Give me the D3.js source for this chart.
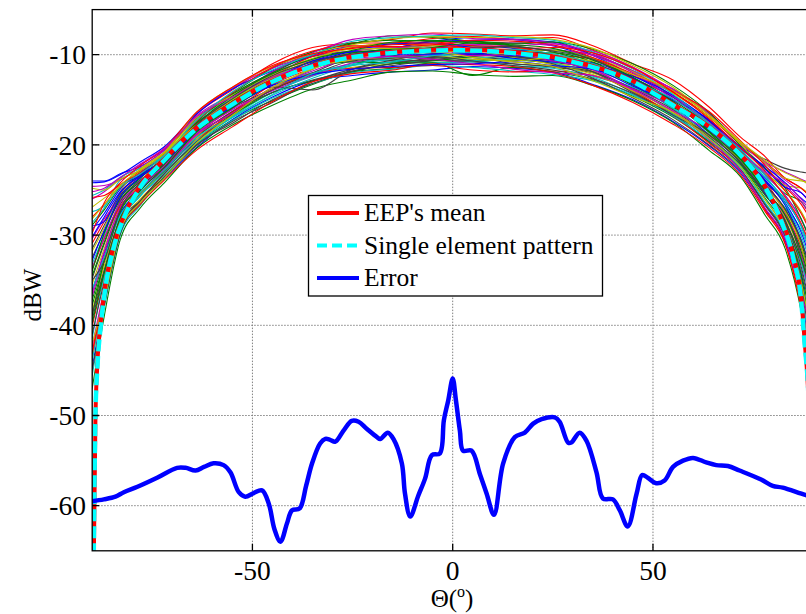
<!DOCTYPE html>
<html>
<head>
<meta charset="utf-8">
<script src="https://cdn.jsdelivr.net/npm/d3@7"></script>
<style>
  html, body { margin: 0; padding: 0; background: #fff; }
  svg { display: block; }
  text { font-family: "Liberation Serif", "Times New Roman", Times, "DejaVu Serif", serif; }
</style>
</head>
<body>
<div id="chart"></div>
<script>
// Embedded element patterns (dBW), one row per element
const eepAngles = [-90, -87, -83, -78, -72, -64, -55, -45, -35, -25, -15, -5, 5, 15, 25, 35, 45, 55, 64, 72, 78, 83, 87, 90]
const eepCurves = [
  [-24.0, -24.0, -23.2, -22.4, -20.6, -17.1, -14.4, -12.4, -10.1, -9.1, -9.2, -8.5, -8.1, -8.3, -9.0, -10.4, -12.7, -15.6, -18.3, -21.9, -25.2, -28.9, -33.9, -40.0],
  [-37.8, -33.0, -27.6, -25.5, -23.0, -19.9, -17.2, -15.1, -13.3, -11.9, -11.5, -10.9, -10.7, -10.6, -10.9, -11.4, -13.2, -15.1, -17.8, -20.7, -23.2, -25.4, -26.3, -28.4],
  [-30.9, -28.5, -25.4, -23.4, -21.0, -17.6, -14.8, -11.9, -9.7, -8.7, -8.7, -8.2, -8.0, -8.3, -8.1, -9.5, -11.4, -14.2, -16.9, -19.8, -21.9, -23.7, -24.8, -26.1],
  [-28.6, -27.0, -23.9, -22.9, -21.1, -17.5, -15.3, -13.3, -12.0, -11.0, -10.1, -9.4, -9.5, -9.6, -10.5, -11.9, -13.7, -16.5, -19.2, -22.8, -26.5, -29.8, -35.5, -42.4],
  [-42.4, -36.0, -29.0, -25.5, -22.6, -18.5, -15.2, -12.5, -10.6, -9.1, -9.2, -9.0, -8.5, -9.2, -9.5, -10.0, -11.8, -13.8, -16.5, -19.8, -21.9, -24.5, -26.3, -28.4],
  [-35.5, -31.5, -26.9, -24.5, -22.5, -19.0, -16.8, -13.8, -12.1, -11.4, -11.0, -10.4, -9.9, -10.1, -10.9, -11.8, -13.2, -15.6, -17.8, -21.1, -23.2, -24.5, -24.8, -26.1],
  [-34.8, -31.0, -26.6, -24.3, -22.2, -18.5, -15.8, -13.3, -11.0, -10.0, -10.1, -10.5, -10.8, -11.0, -11.4, -12.0, -13.7, -15.6, -17.4, -20.2, -21.6, -22.6, -23.0, -23.2],
  [-44.7, -37.5, -29.8, -26.5, -23.8, -20.3, -17.2, -14.7, -12.9, -12.3, -11.9, -11.7, -11.3, -11.5, -11.9, -13.3, -15.0, -17.4, -20.1, -23.2, -27.1, -30.6, -37.0, -44.7],
  [-28.9, -27.2, -24.7, -23.4, -21.4, -17.2, -14.3, -11.5, -9.7, -8.8, -7.9, -8.1, -8.5, -8.7, -8.6, -10.0, -11.8, -14.7, -17.8, -21.1, -24.5, -27.2, -30.9, -35.4],
  [-40.1, -34.5, -28.3, -25.5, -22.7, -19.0, -16.3, -13.3, -11.5, -10.0, -10.2, -9.9, -9.4, -9.6, -10.5, -11.4, -12.7, -14.7, -17.4, -21.0, -24.0, -27.5, -31.4, -36.0],
  [-33.2, -30.0, -25.6, -23.9, -21.8, -18.0, -14.9, -12.4, -11.0, -10.1, -9.2, -9.0, -9.1, -9.6, -9.5, -10.9, -13.2, -16.0, -18.8, -21.5, -24.6, -27.0, -29.4, -33.1],
  [-24.6, -24.5, -23.9, -22.5, -20.6, -16.8, -14.4, -12.0, -10.6, -10.0, -9.6, -9.0, -8.9, -8.7, -9.0, -9.6, -11.4, -13.9, -16.6, -19.9, -22.1, -23.9, -25.3, -26.8],
  [-38.4, -33.4, -28.3, -25.5, -22.9, -19.0, -15.8, -12.8, -11.1, -9.7, -9.2, -9.4, -9.5, -10.1, -10.9, -12.0, -14.1, -16.5, -18.8, -21.9, -25.2, -28.0, -32.4, -37.7],
  [-32.5, -29.6, -26.1, -23.9, -22.2, -18.4, -15.9, -13.8, -12.0, -10.5, -10.6, -10.3, -10.5, -10.1, -10.5, -11.9, -14.2, -16.6, -19.7, -22.8, -26.6, -30.0, -35.8, -43.0],
  [-36.2, -32.0, -27.6, -25.0, -22.6, -19.4, -16.7, -13.8, -11.6, -10.0, -9.3, -8.5, -8.4, -8.3, -8.6, -10.1, -12.3, -14.7, -17.3, -21.0, -23.9, -26.4, -29.7, -33.6],
  [-47.0, -39.0, -30.5, -27.0, -24.2, -20.4, -17.8, -15.6, -13.8, -12.8, -11.9, -11.8, -12.2, -12.4, -12.3, -13.4, -15.1, -17.5, -20.6, -23.6, -27.8, -31.5, -38.5, -47.0],
  [-28.0, -26.6, -24.5, -22.9, -20.9, -16.6, -13.9, -11.0, -9.2, -8.7, -8.3, -7.6, -7.7, -7.9, -7.8, -9.0, -11.0, -12.8, -15.8, -19.2, -21.3, -23.7, -24.8, -26.1],
  [-41.5, -34.5, -28.5, -25.6, -23.4, -19.9, -16.9, -14.2, -12.4, -11.1, -10.6, -10.9, -10.8, -10.5, -10.9, -12.4, -13.6, -15.6, -17.9, -21.1, -23.3, -25.6, -28.2, -31.2],
  [-26.0, -25.2, -23.7, -22.2, -20.5, -16.5, -13.7, -11.5, -10.1, -9.6, -9.2, -9.4, -9.9, -9.6, -9.5, -10.0, -11.8, -13.8, -16.5, -19.8, -21.9, -23.0, -23.8, -24.4],
  [-43.8, -37.0, -29.0, -26.0, -23.5, -19.4, -16.7, -13.8, -11.5, -10.4, -9.6, -9.0, -9.1, -9.2, -10.0, -10.9, -12.8, -15.5, -18.3, -21.9, -25.3, -28.2, -34.2, -40.5],
  [-31.5, -28.9, -25.6, -23.6, -21.4, -17.6, -15.4, -13.6, -13.9, -11.6, -10.6, -9.9, -10.0, -9.6, -9.5, -10.4, -12.6, -15.6, -18.3, -21.8, -24.5, -27.3, -32.6, -38.0],
  [-24.2, -24.1, -23.3, -21.9, -20.2, -16.6, -13.8, -11.8, -10.2, -9.7, -9.6, -9.3, -9.0, -9.3, -10.1, -11.0, -13.3, -15.7, -18.9, -22.0, -25.4, -29.2, -34.5, -43.0],
  [-37.2, -32.6, -27.4, -24.8, -22.4, -18.8, -16.6, -14.2, -12.9, -11.9, -11.0, -10.9, -12.3, -11.4, -11.9, -12.8, -14.6, -16.9, -19.6, -22.3, -25.9, -29.1, -34.3, -40.6],
  [-33.8, -30.4, -26.8, -24.6, -22.0, -18.1, -15.2, -12.4, -10.2, -9.2, -8.7, -8.6, -9.0, -9.1, -10.0, -10.5, -12.3, -14.2, -16.9, -20.1, -22.6, -24.7, -26.6, -28.8],
  [-45.6, -38.0, -30.0, -26.7, -23.5, -20.0, -17.3, -14.8, -13.2, -12.0, -11.6, -11.2, -11.4, -11.8, -12.2, -12.9, -14.5, -16.6, -19.3, -22.4, -26.4, -29.9, -36.6, -44.2],
  [-30.4, -28.2, -26.1, -24.0, -21.7, -17.9, -14.8, -11.9, -9.8, -8.3, -7.9, -7.7, -8.2, -8.3, -8.7, -10.1, -11.9, -14.6, -17.5, -20.6, -23.3, -25.6, -28.3, -31.3],
  [-26.9, -25.9, -24.7, -23.0, -21.1, -17.2, -14.8, -12.4, -10.6, -9.1, -8.8, -9.0, -9.4, -9.7, -9.5, -10.4, -11.9, -14.3, -16.9, -19.8, -22.0, -23.7, -24.0, -24.2],
  [-39.4, -34.0, -28.0, -25.3, -22.9, -19.2, -16.3, -14.2, -12.8, -11.8, -11.0, -10.4, -10.3, -11.0, -11.3, -11.9, -13.8, -16.1, -19.1, -22.2, -25.1, -27.8, -32.1, -37.2],
  [-29.4, -27.6, -24.9, -23.1, -21.3, -18.0, -15.4, -12.8, -10.7, -9.7, -9.6, -9.8, -10.0, -10.1, -10.6, -10.9, -12.6, -15.2, -18.4, -21.5, -23.7, -26.1, -29.0, -32.6],
  [-34.5, -30.8, -26.3, -24.1, -21.9, -17.5, -14.4, -12.0, -10.0, -8.7, -8.4, -8.5, -8.6, -8.8, -8.6, -9.4, -11.0, -13.4, -16.4, -20.1, -22.6, -24.8, -28.2, -31.4],
  [-43.0, -36.5, -29.3, -26.2, -23.2, -19.6, -16.4, -13.9, -12.1, -11.5, -11.4, -11.2, -11.7, -11.9, -11.8, -12.3, -14.0, -16.8, -19.8, -22.9, -27.2, -30.9, -38.2, -46.5],
  [-25.6, -25.0, -23.6, -22.6, -21.2, -17.3, -14.9, -12.6, -11.1, -10.2, -9.8, -10.0, -10.3, -10.4, -10.3, -11.2, -13.0, -15.9, -18.6, -21.4, -24.3, -26.0, -29.0, -32.4],
  [-36.8, -32.3, -27.1, -24.7, -22.3, -18.7, -16.0, -13.0, -11.2, -10.6, -10.2, -10.1, -9.6, -9.8, -10.2, -11.6, -13.9, -16.2, -18.5, -21.6, -24.8, -28.3, -32.9, -38.4],
  [-31.8, -29.2, -25.2, -22.7, -20.8, -16.4, -13.6, -11.3, -9.9, -8.9, -8.2, -8.0, -8.1, -8.0, -8.3, -9.3, -11.2, -13.6, -16.7, -20.0, -23.0, -25.1, -27.4, -30.0],
  [-41.0, -35.2, -29.2, -26.2, -23.6, -20.1, -17.4, -15.3, -13.0, -11.6, -10.8, -10.6, -10.6, -10.3, -10.7, -11.6, -12.9, -15.3, -18.0, -20.9, -24.1, -26.6, -31.2, -36.0],
  [-29.0, -28.5, -25.3, -23.3, -21.7, -18.1, -15.8, -13.2, -10.9, -9.6, -8.8, -8.7, -9.2, -9.6, -10.4, -11.3, -12.6, -15.0, -17.2, -20.5, -22.4, -24.2, -25.9, -27.0],
  [-39.0, -32.8, -27.3, -24.8, -22.1, -18.3, -15.1, -12.7, -11.4, -10.8, -10.9, -10.7, -10.2, -9.9, -9.8, -10.8, -13.1, -15.4, -18.6, -22.1, -25.6, -28.6, -35.0, -41.6],
  [-25.8, -25.6, -24.4, -23.1, -21.3, -17.4, -14.2, -11.4, -9.6, -9.0, -9.1, -8.9, -8.4, -8.5, -8.9, -10.3, -12.1, -14.0, -16.3, -19.6, -22.3, -25.1, -27.6, -30.3],
  [-44.0, -36.3, -28.8, -25.7, -23.1, -19.6, -17.0, -14.5, -12.6, -11.2, -10.3, -10.2, -10.6, -11.2, -11.5, -12.5, -14.4, -16.8, -19.5, -22.6, -26.0, -29.3, -33.0, -38.5],
  [-33.6, -30.3, -26.4, -24.4, -22.4, -18.8, -16.1, -14.0, -12.3, -10.9, -10.0, -9.3, -8.8, -9.0, -8.8, -9.8, -12.0, -14.9, -17.6, -21.3, -24.2, -27.7, -32.0, -39.2],
  [-24.8, -25.0, -23.8, -22.8, -20.9, -17.0, -14.5, -12.2, -10.4, -9.4, -9.3, -9.6, -9.7, -10.3, -11.1, -12.2, -14.0, -16.3, -19.0, -21.7, -24.7, -27.4, -31.2, -37.0],
  [-38.8, -33.9, -28.6, -26.2, -23.6, -20.0, -17.6, -15.0, -13.2, -11.8, -11.2, -10.6, -10.1, -10.2, -11.0, -12.6, -14.8, -17.2, -20.0, -23.0, -26.7, -30.2, -36.0, -43.5],
  [-30.2, -28.0, -25.2, -23.5, -21.9, -18.4, -15.6, -12.9, -10.7, -10.1, -10.0, -10.0, -9.8, -10.4, -10.8, -11.2, -12.4, -14.5, -17.3, -20.3, -22.7, -24.7, -25.3, -26.9],
  [-34.0, -29.8, -25.9, -23.7, -21.5, -17.7, -14.6, -12.1, -10.5, -9.5, -8.6, -8.4, -8.7, -9.0, -9.7, -11.1, -13.4, -15.8, -18.1, -21.6, -25.0, -28.4, -32.7, -36.8],
  [-43.2, -36.8, -29.6, -26.6, -23.9, -20.6, -18.0, -15.2, -13.0, -12.1, -11.7, -11.0, -11.1, -11.3, -12.0, -13.4, -15.3, -17.7, -20.3, -23.4, -27.4, -31.0, -37.6, -45.5],
  [-27.4, -26.8, -24.6, -23.2, -21.2, -17.3, -14.1, -11.7, -10.0, -8.5, -8.1, -7.9, -7.8, -8.1, -8.4, -9.7, -11.6, -14.4, -17.6, -20.9, -23.6, -26.1, -29.0, -32.6],
  [-36.5, -31.8, -27.0, -24.7, -22.7, -18.9, -16.5, -13.6, -11.8, -10.3, -9.5, -9.6, -10.1, -10.0, -10.7, -11.7, -13.9, -16.3, -19.4, -22.9, -27.0, -30.4, -36.4, -41.2],
  [-28.2, -26.6, -24.5, -22.7, -20.8, -17.8, -15.0, -12.6, -11.3, -10.6, -10.4, -10.2, -10.5, -10.7, -10.3, -10.7, -12.2, -14.0, -16.7, -19.7, -21.7, -23.1, -23.9, -24.7],
  [-45.0, -37.9, -29.9, -26.3, -23.2, -19.7, -16.6, -13.9, -12.2, -10.7, -10.4, -10.2, -10.7, -11.2, -11.7, -12.7, -14.3, -16.7, -18.9, -22.0, -25.5, -28.5, -33.5, -39.5],
  [-32.8, -29.5, -25.8, -23.6, -21.6, -17.9, -15.5, -13.4, -12.2, -11.6, -11.3, -11.1, -11.0, -10.8, -11.2, -11.6, -13.5, -15.4, -18.0, -21.2, -24.0, -26.7, -30.5, -34.8],
  [-39.8, -34.2, -28.1, -25.1, -22.5, -18.6, -15.9, -13.0, -11.2, -9.8, -9.4, -9.2, -8.7, -8.9, -9.3, -10.6, -12.5, -15.2, -18.5, -21.7, -25.0, -27.8, -31.8, -36.5],
  [-29.8, -26.4, -24.2, -22.3, -20.4, -16.4, -13.6, -11.2, -9.9, -9.3, -8.9, -8.8, -9.3, -9.4, -9.2, -9.8, -11.5, -14.1, -17.1, -20.4, -22.9, -25.8, -28.7, -32.0],
  [-36.0, -32.5, -27.8, -25.3, -22.8, -19.2, -16.9, -14.4, -12.1, -11.2, -10.8, -10.1, -9.7, -9.4, -9.9, -11.0, -12.9, -14.9, -17.7, -20.6, -23.4, -26.5, -30.1, -34.0],
  [-25.2, -24.8, -23.6, -22.1, -20.4, -16.9, -14.7, -12.5, -11.1, -10.4, -10.2, -10.5, -11.0, -11.6, -12.0, -12.3, -13.8, -15.7, -17.9, -21.0, -23.0, -24.3, -26.0, -27.8],
  [-42.0, -37.2, -29.5, -26.4, -23.7, -19.8, -16.7, -13.6, -11.6, -10.2, -9.8, -9.7, -10.3, -10.8, -11.3, -12.9, -14.7, -16.4, -19.3, -22.5, -26.1, -29.6, -35.2, -42.0],
  [-35.0, -32.9, -27.2, -24.2, -22.0, -17.8, -14.9, -12.3, -10.8, -9.9, -9.7, -9.5, -9.3, -9.1, -9.6, -10.5, -12.8, -15.3, -18.2, -21.4, -24.4, -27.1, -30.6, -35.0]
]
// MATLAB's classic line colour order
const eepColors = ["#0000ff", "#008000", "#ff0000", "#00bfbf", "#bf00bf", "#bfbf00", "#404040"]

// Single element pattern and mean of the EEPs
const patternAngles = [-90, -89.6, -89.2, -88.7, -87.9, -86.7, -84.6, -82, -78, -72, -65, -55, -45, -30, -15, 0, 15, 30, 45, 55, 65, 72, 78, 82, 85, 87, 87.8, 89, 90]
const patternValues = [-90, -65, -50.2, -44.6, -40.2, -35.8, -31.3, -28.0, -24.7, -21.7, -18.6, -15.5, -13.0, -10.7, -9.8, -9.5, -9.8, -10.8, -13.0, -15.6, -18.4, -21.2, -24.7, -28.4, -32.5, -37.3, -41.7, -50, -90]
const meanValues = [-90, -66, -50.5, -44.2, -39.8, -35.5, -31.1, -27.8, -24.5, -21.6, -18.5, -15.4, -12.9, -10.6, -9.7, -9.4, -9.7, -10.7, -12.9, -15.5, -18.3, -21.1, -24.6, -28.2, -32.2, -37.0, -41.4, -50.5, -90]

// Error between the mean and the single element pattern
const errorAngles = [-90, -87.1, -84.2, -82.1, -78.7, -73.8, -68.8, -66.7, -64.2, -62.1, -59.7, -57.2, -55.5, -53.4, -51.8, -49.7, -47.6, -45.9, -44.5, -43.0, -41.4, -40.1, -38.2, -36.6, -35.1, -33.1, -31.8, -30.6, -29.3, -27.3, -25.2, -23.5, -21.4, -18.9, -18.1, -16.2, -14.8, -12.7, -11.9, -10.6, -8.6, -6.9, -5.2, -3.2, -2.2, -1.1, 0, 0.8, 1.8, 2.6, 4.7, 6.8, 8.5, 10.3, 12.6, 15.5, 18.0, 20.1, 22.2, 25.5, 26.7, 28.8, 29.6, 31.7, 33.4, 35.9, 37.5, 40.0, 41.7, 43.7, 45.9, 47.3, 48.7, 50.8, 52.9, 55.0, 57.5, 60.0, 63.3, 65.8, 68.7, 71.6, 77.0, 79.9, 82.4, 88.0, 90]
const errorValues = [-59.5, -59.3, -59.0, -58.5, -57.9, -56.9, -55.8, -55.8, -56.1, -55.7, -55.3, -55.5, -56.3, -58.5, -59.0, -58.6, -58.3, -59.8, -62.6, -64.0, -62.0, -60.5, -60.3, -57.8, -55.3, -53.1, -52.6, -52.7, -52.9, -51.7, -50.6, -50.7, -51.5, -52.4, -52.6, -51.9, -52.6, -55.3, -58.7, -61.2, -58.9, -57.0, -54.4, -54.2, -50.5, -48.3, -45.9, -48.3, -51.7, -53.9, -53.9, -56.5, -58.7, -61.0, -55.3, -52.4, -51.9, -50.9, -50.4, -50.2, -50.7, -53.0, -53.0, -51.9, -52.8, -56.3, -59.2, -59.3, -60.5, -62.3, -58.7, -56.6, -56.9, -57.5, -57.2, -55.7, -55.0, -54.7, -55.2, -55.5, -55.6, -56.1, -57.1, -57.8, -58.0, -58.8, -59.0]

const xTicks = [-50, 0, 50]
const yTicks = [-60, -50, -40, -30, -20, -10]
const legendLabels = ["EEP's mean", "Single element pattern", "Error"]

const W = 806, H = 614
const FONT = "'Liberation Serif', 'Times New Roman', Times, 'DejaVu Serif', serif"
const svg = d3.select("#chart").append("svg")
  .attr("width", W)
  .attr("height", H)
  .attr("font-family", FONT)

const x = d3.scaleLinear().domain([-90, 90]).range([92.2, 813.2])
const y = d3.scaleLinear().domain([-65, -5]).range([550.8, 9.6])
const [x0, x1] = x.range()
const [yb, yt] = y.range()

svg.append("defs").append("clipPath").attr("id", "plot-clip")
  .append("rect")
  .attr("x", x0).attr("y", yt)
  .attr("width", x1 - x0).attr("height", yb - yt)

// Grid (dotted, under the data)
const grid = svg.append("g").attr("stroke", "#808080").attr("stroke-width", 1).attr("stroke-dasharray", "1.5,1.5")
grid.selectAll(".gx").data(xTicks).enter().append("line")
  .attr("x1", d => x(d)).attr("x2", d => x(d))
  .attr("y1", yt).attr("y2", yb)
grid.selectAll(".gy").data(yTicks).enter().append("line")
  .attr("x1", x0).attr("x2", x1)
  .attr("y1", d => y(d)).attr("y2", d => y(d))

const plot = svg.append("g").attr("clip-path", "url(#plot-clip)")

const smooth = d3.line()
  .x(d => x(d[0]))
  .y(d => y(d[1]))
  .curve(d3.curveMonotoneX)

// EEP curves
plot.selectAll(".eep").data(eepCurves).enter().append("path")
  .attr("class", "eep")
  .attr("fill", "none")
  .attr("stroke", (d, i) => eepColors[i % eepColors.length])
  .attr("stroke-width", 1.1)
  .attr("d", d => smooth(d.map((v, j) => [eepAngles[j], v])))

// Mean (solid red) under the single element pattern (cyan dashed)
plot.append("path")
  .attr("fill", "none")
  .attr("stroke", "#ff0000")
  .attr("stroke-width", 4)
  .attr("d", smooth(meanValues.map((v, j) => [patternAngles[j], v])))

plot.append("path")
  .attr("fill", "none")
  .attr("stroke", "#00ffff")
  .attr("stroke-width", 4.5)
  .attr("stroke-dasharray", "12,5")
  .attr("d", smooth(patternValues.map((v, j) => [patternAngles[j], v])))

// Error curve
plot.append("path")
  .attr("fill", "none")
  .attr("stroke", "#0000ff")
  .attr("stroke-width", 4.5)
  .attr("stroke-linejoin", "round")
  .attr("d", d3.line()
    .x(d => x(d[0]))
    .y(d => y(d[1]))
    .curve(d3.curveCatmullRom)(errorValues.map((v, j) => [errorAngles[j], v])))

// Axes box and inward ticks
const frame = svg.append("g").attr("stroke", "#000").attr("stroke-width", 1.3).attr("fill", "none")
frame.append("rect").attr("x", x0).attr("y", yt).attr("width", x1 - x0).attr("height", yb - yt)
frame.selectAll(".tx").data(xTicks).enter().append("path")
  .attr("d", d => `M${x(d)},${yb}v-7M${x(d)},${yt}v7`)
frame.selectAll(".ty").data(yTicks).enter().append("path")
  .attr("d", d => `M${x0},${y(d)}h7M${x1},${y(d)}h-7`)

// Tick labels
svg.selectAll(".xl").data(xTicks).enter().append("text")
  .attr("x", d => x(d))
  .attr("y", 580)
  .attr("text-anchor", "middle")
  .style("font-family", FONT)
  .style("font-size", "27.5px")
  .text(d => d)

svg.selectAll(".yl").data(yTicks).enter().append("text")
  .attr("x", 86)
  .attr("y", d => y(d))
  .attr("dy", "0.35em")
  .attr("text-anchor", "end")
  .style("font-family", FONT)
  .style("font-size", "27.5px")
  .text(d => d)

// Axis titles
const xt = svg.append("text")
  .attr("x", 452)
  .attr("y", 607)
  .attr("text-anchor", "middle")
  .style("font-family", FONT)
  .style("font-size", "25px")
xt.append("tspan").text("\u0398(")
xt.append("tspan").attr("dy", -10).style("font-size", "16px").text("o")
xt.append("tspan").attr("dy", 10).text(")")

svg.append("text")
  .attr("transform", "translate(41,295) rotate(-90)")
  .attr("text-anchor", "middle")
  .style("font-family", FONT)
  .style("font-size", "25px")
  .text("dBW")

// Legend
const legend = svg.append("g")
legend.append("rect")
  .attr("x", 308.5).attr("y", 195.5)
  .attr("width", 294).attr("height", 100.5)
  .attr("fill", "#fff")
  .attr("stroke", "#000")
  .attr("stroke-width", 1.3)

const legendStyles = [
  { color: "#ff0000", dash: null },
  { color: "#00ffff", dash: "10,5" },
  { color: "#0000ff", dash: null }
]
legendLabels.forEach((label, i) => {
  const cy = 213 + i * 32.5
  legend.append("line")
    .attr("x1", 317).attr("x2", 359)
    .attr("y1", cy).attr("y2", cy)
    .attr("stroke", legendStyles[i].color)
    .attr("stroke-width", 4)
    .attr("stroke-dasharray", legendStyles[i].dash)
  legend.append("text")
    .attr("x", 364)
    .attr("y", cy)
    .attr("dy", "0.33em")
    .style("font-family", FONT)
    .style("font-size", "25.5px")
    .text(label)
})
</script>
</body>
</html>
